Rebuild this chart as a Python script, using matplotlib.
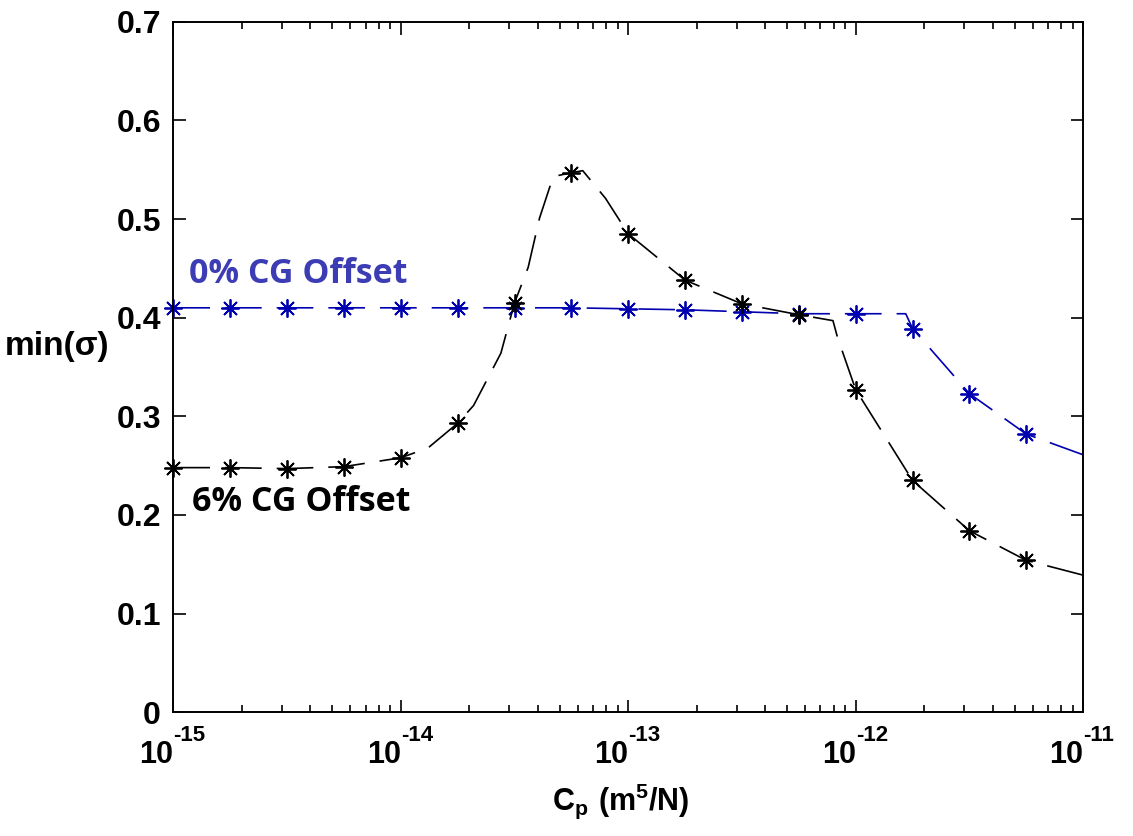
import numpy as np
import matplotlib
matplotlib.use('Agg')
import matplotlib.pyplot as plt
import matplotlib.transforms as mtransforms
from matplotlib.ticker import NullFormatter

plt.rcParams['font.family'] = ['Liberation Sans', 'DejaVu Sans']
plt.rcParams['mathtext.fontset'] = 'custom'
plt.rcParams['mathtext.bf'] = 'Liberation Sans:bold'
plt.rcParams['mathtext.rm'] = 'Liberation Sans:bold'

# log10(Cp) where markers sit
marker_exp = [-15.0, -14.75, -14.5, -14.25, -14.0, -13.75, -13.5, -13.25,
              -13.0, -12.75, -12.5, -12.25, -12.0, -11.75, -11.5, -11.25]

# 0% CG offset (blue)
blue_exp = [-15.0, -14.75, -14.5, -14.25, -14.0, -13.75, -13.5, -13.25,
            -13.0, -12.75, -12.5, -12.25, -12.0, -11.78, -11.75, -11.64,
            -11.5, -11.25, -11.0]
blue_val = [0.410, 0.410, 0.410, 0.410, 0.410, 0.410, 0.410, 0.410,
            0.409, 0.408, 0.406, 0.404, 0.404, 0.404, 0.389, 0.360,
            0.323, 0.282, 0.261]
blue_mk = [0.410, 0.410, 0.410, 0.410, 0.410, 0.410, 0.410, 0.410,
           0.409, 0.408, 0.406, 0.404, 0.404, 0.389, 0.323, 0.282]

# 6% CG offset (black)
black_exp = [-15.0, -14.75, -14.5, -14.25, -14.0, -13.88, -13.75, -13.68,
             -13.56, -13.5, -13.44, -13.39, -13.33, -13.25, -13.20, -13.10,
             -13.0, -12.75, -12.5, -12.25, -12.10, -12.08, -12.0, -11.75,
             -11.5, -11.25, -11.0]
black_val = [0.248, 0.248, 0.247, 0.249, 0.258, 0.268, 0.293, 0.311,
             0.364, 0.415, 0.451, 0.501, 0.543, 0.547, 0.549, 0.521,
             0.485, 0.438, 0.414, 0.403, 0.397, 0.380, 0.327, 0.235,
             0.184, 0.154, 0.139]
black_mk = [0.248, 0.248, 0.247, 0.249, 0.258, 0.293, 0.415, 0.547,
            0.485, 0.438, 0.414, 0.403, 0.327, 0.235, 0.184, 0.154]

yticks = [0, 0.1, 0.2, 0.3, 0.4, 0.5, 0.6, 0.7]
ytick_labels = ['0', '0.1', '0.2', '0.3', '0.4', '0.5', '0.6', '0.7']
xtick_exp = [-15, -14, -13, -12, -11]

blue = '#0000b0'
fig = plt.figure(figsize=(11.33, 8.36), dpi=100)
ax = fig.add_axes([0.153, 0.148, 0.803, 0.826])

for ex, val, mex, mval, c in [(blue_exp, blue_val, marker_exp, blue_mk, blue),
                              (black_exp, black_val, marker_exp, black_mk, 'black')]:
    ax.plot(10.0 ** np.array(ex), val, color=c, lw=1.2, dashes=(22, 9))
    ax.plot(10.0 ** np.array(mex), mval, ls='none', color=c, clip_on=False,
            marker=(8, 2, 0), markersize=13, markeredgewidth=1.3)

ax.set_xscale('log')
ax.set_xlim(1e-15, 1e-11)
ax.set_ylim(0, 0.7)
ax.set_yticks(yticks)
ax.set_yticklabels(ytick_labels)
ax.set_xticks([10.0 ** e for e in xtick_exp])
ax.set_xticklabels([])
ax.xaxis.set_minor_formatter(NullFormatter())
ax.tick_params(which='both', direction='in', top=True, right=True, width=1.2)
ax.tick_params(which='major', length=9)
ax.tick_params(which='minor', length=5)
ax.tick_params(axis='y', labelsize=23, pad=9)
for lab in ax.get_yticklabels():
    lab.set_fontweight('bold')
for s in ax.spines.values():
    s.set_linewidth(1.4)

# x tick labels: base "10" ends at the tick, exponent starts there
trans = mtransforms.blended_transform_factory(ax.transData, ax.transAxes)
for e in xtick_exp:
    ax.text(10.0 ** e, -0.074, '10', transform=trans, ha='right',
            va='baseline', fontsize=22, fontweight='bold')
    ax.text(10.0 ** e, -0.042, '%d' % e, transform=trans, ha='left',
            va='baseline', fontsize=16, fontweight='bold')

ax.set_xlabel(r'$\mathbf{C_p\ (m^5/N)}$', fontsize=22)
ax.xaxis.set_label_coords(0.492, -0.1)
ax.set_ylabel('min(σ)', fontsize=24, fontweight='bold', rotation=0,
              va='center', ha='center')
ax.yaxis.set_label_coords(-0.128, 0.529)

ax.text(10 ** -14.93, 0.444, '0% CG Offset', color='#3c3cb4', fontsize=24.5,
        fontweight='bold', family=['Open Sans', 'DejaVu Sans'], va='center')
ax.text(10 ** -14.92, 0.213, '6% CG Offset', color='black', fontsize=24.5,
        fontweight='bold', family=['Open Sans', 'DejaVu Sans'], va='center')

fig.savefig('out.png', dpi=100)
